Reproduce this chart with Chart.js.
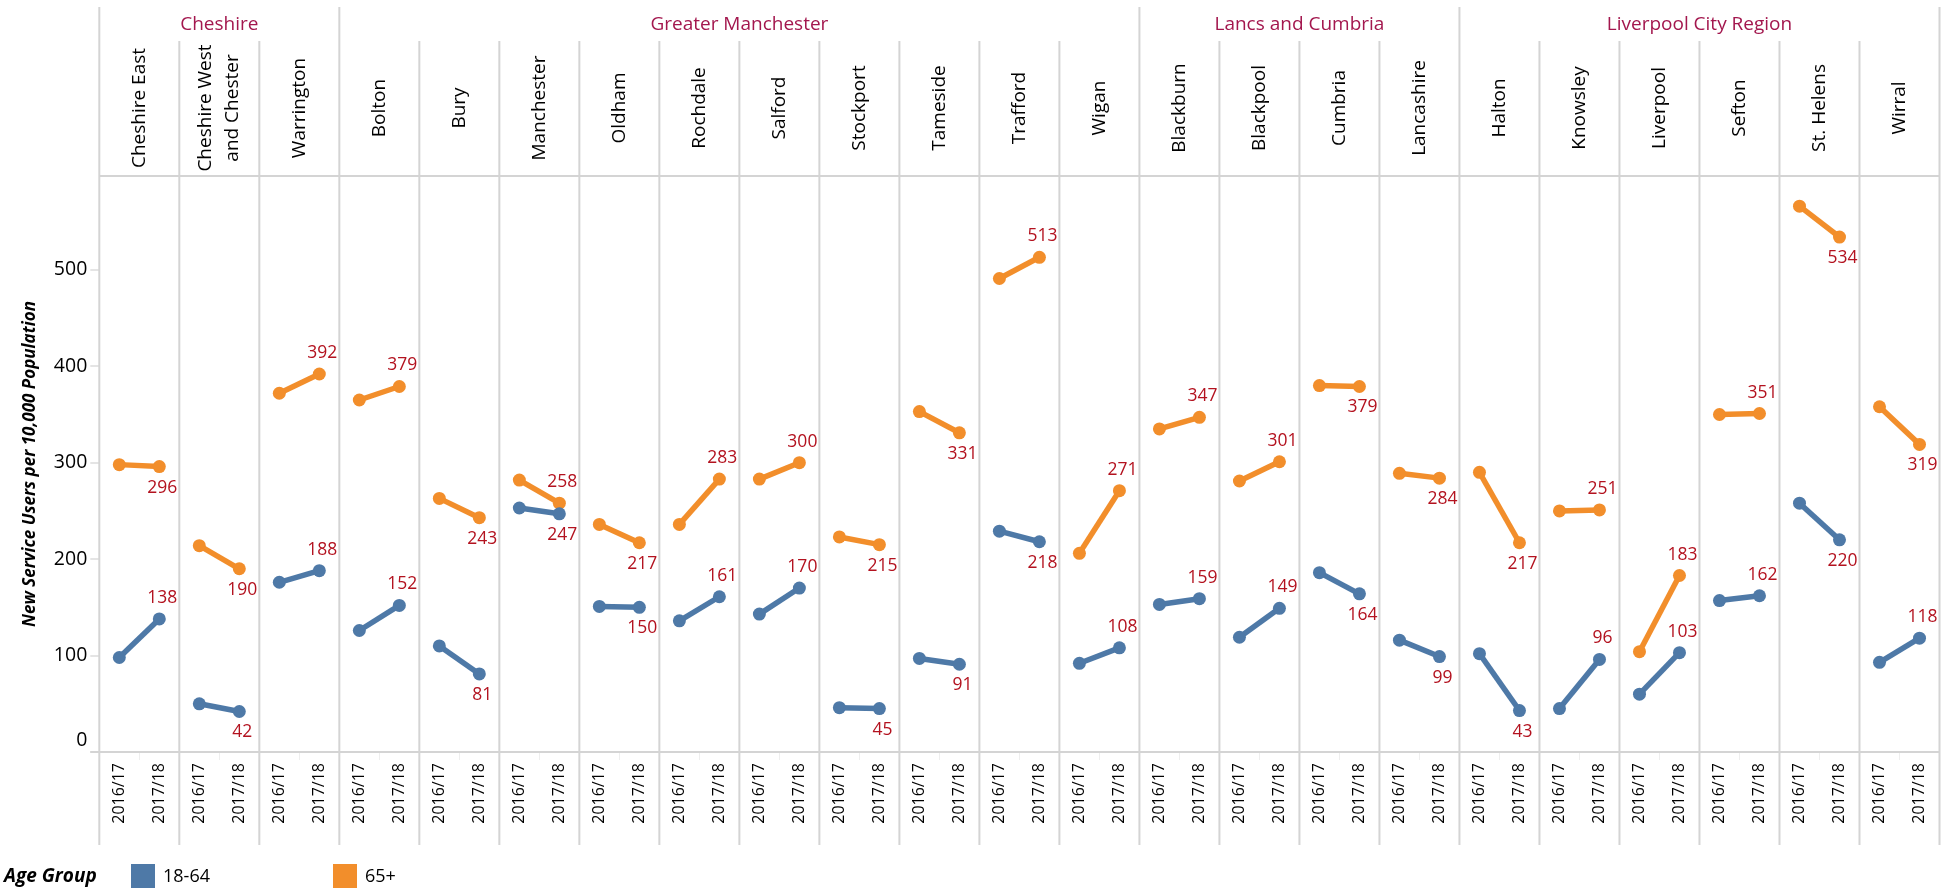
<!DOCTYPE html>
<html>
<head>
<meta charset="utf-8">
<script src="https://cdn.jsdelivr.net/npm/chart.js@4.4.1/dist/chart.umd.min.js"></script>
<style>
html,body{margin:0;padding:0;background:#fff;overflow:hidden}
#wrap{position:relative;width:1946px;height:888px}
</style>
</head>
<body>
<div id="wrap"><canvas id="c" width="1946" height="888"></canvas></div>
<script>
// ---------- data ----------
const regionNames = ['Cheshire', 'Greater Manchester', 'Lancs and Cumbria', 'Liverpool City Region'];
const regionSizes = [3, 10, 4, 6];
const districts = ['Cheshire East', 'Cheshire West and Chester', 'Warrington',
  'Bolton', 'Bury', 'Manchester', 'Oldham', 'Rochdale', 'Salford', 'Stockport', 'Tameside', 'Trafford', 'Wigan',
  'Blackburn', 'Blackpool', 'Cumbria', 'Lancashire',
  'Halton', 'Knowsley', 'Liverpool', 'Sefton', 'St. Helens', 'Wirral'];
const years = ['2016/17', '2017/18'];
const age1864_1617 = [98, 50, 176, 126, 110, 253, 151, 136, 143, 46, 97, 229, 92, 153, 119, 186, 116, 102, 45, 60, 157, 258, 93];
const age1864_1718 = [138, 42, 188, 152, 81, 247, 150, 161, 170, 45, 91, 218, 108, 159, 149, 164, 99, 43, 96, 103, 162, 220, 118];
const age65_1617 = [298, 214, 372, 365, 263, 282, 236, 236, 283, 223, 353, 491, 206, 335, 281, 380, 289, 290, 250, 104, 350, 566, 358];
const age65_1718 = [296, 190, 392, 379, 243, 258, 217, 283, 300, 215, 331, 513, 271, 347, 301, 379, 284, 217, 251, 183, 351, 534, 319];
const yTicks = [0, 100, 200, 300, 400, 500];
const seriesNames = ['18-64', '65+'];
const yTitle = 'New Service Users per 10,000 Population';
const legendTitle = 'Age Group';

// ---------- styles ----------
const FAMILY = '"Open Sans", "Noto Sans", sans-serif';
const BLUE = '#4e79a7';
const ORANGE = '#f28e2b';
const LABEL_RED = '#b3121f';
const REGION_COL = '#a3174e';
const TEXT = '#000000';
const SEP = '#d4d4d4';

// ---------- build ----------
const labels = [];
const s1864 = [];
const s65 = [];
districts.forEach((d, i) => {
  years.forEach(y => labels.push(y));
  s1864.push(age1864_1617[i], age1864_1718[i]);
  s65.push(age65_1617[i], age65_1718[i]);
});

function ds(name, data, color) {
  return {
    label: name, data,
    borderColor: color, backgroundColor: color,
    pointBackgroundColor: color, pointBorderColor: color,
    borderWidth: 5.5, pointRadius: 6.5, pointBorderWidth: 0, pointHoverRadius: 6.5,
    tension: 0, fill: false,
    segment: { borderColor: c => (c.p0DataIndex % 2 === 1) ? 'rgba(0,0,0,0)' : color }
  };
}

function panelEdges(chart) {
  const x = chart.scales.x;
  const half = (x.getPixelForValue(1) - x.getPixelForValue(0)) / 2;
  const edges = [];
  for (let p = 0; p < districts.length; p++) edges.push(x.getPixelForValue(2 * p) - half);
  edges.push(x.getPixelForValue(2 * districts.length - 1) + half);
  return edges;
}

const framePlugin = {
  id: 'frame',
  beforeDatasetsDraw(chart) {
    const ctx = chart.ctx;
    const area = chart.chartArea;
    const edges = panelEdges(chart);
    const groupStarts = [0];
    regionSizes.forEach(s => groupStarts.push(groupStarts[groupStarts.length - 1] + s));
    ctx.save();
    ctx.strokeStyle = SEP;
    ctx.lineWidth = 2;
    edges.forEach((ex, p) => {
      const top = groupStarts.includes(p) ? 7 : 41;
      ctx.beginPath();
      ctx.moveTo(ex, top);
      ctx.lineTo(ex, 845);
      ctx.stroke();
    });
    ctx.beginPath();
    ctx.moveTo(area.left, area.top); ctx.lineTo(area.right, area.top);
    ctx.moveTo(area.left - 9, area.bottom); ctx.lineTo(area.right, area.bottom);
    ctx.stroke();

    ctx.fillStyle = REGION_COL;
    ctx.font = '19px ' + FAMILY;
    ctx.textAlign = 'center';
    ctx.textBaseline = 'middle';
    regionNames.forEach((r, i) => {
      const x0 = edges[groupStarts[i]], x1 = edges[groupStarts[i + 1]];
      ctx.fillText(r, (x0 + x1) / 2, 25);
    });

    ctx.fillStyle = TEXT;
    ctx.font = '19px ' + FAMILY;
    districts.forEach((d, p) => {
      const cx = (edges[p] + edges[p + 1]) / 2;
      const lines = d === 'Cheshire West and Chester' ? ['Cheshire West', 'and Chester'] : [d];
      ctx.save();
      ctx.translate(cx, 108);
      ctx.rotate(-Math.PI / 2);
      const lh = 27;
      lines.forEach((l, k) => {
        const off = (k - (lines.length - 1) / 2) * lh;
        ctx.fillText(l, 0, off);
      });
      ctx.restore();
    });

    ctx.textAlign = 'left';
    ctx.fillStyle = TEXT;
    ctx.font = 'italic bold 19px ' + FAMILY;
    ctx.fillText(legendTitle, 4, 877);
    const legendX = [131, 333];
    const legendCol = [BLUE, ORANGE];
    ctx.font = '18px ' + FAMILY;
    seriesNames.forEach((n, i) => {
      ctx.fillStyle = legendCol[i];
      ctx.fillRect(legendX[i], 864, 24, 24);
      ctx.fillStyle = TEXT;
      ctx.fillText(n, legendX[i] + 32, 877);
    });
    ctx.restore();
  }
};

const valueLabelPlugin = {
  id: 'valueLabels',
  afterDatasetsDraw(chart) {
    const ctx = chart.ctx;
    const metas = [chart.getDatasetMeta(0), chart.getDatasetMeta(1)];
    const first = [age1864_1617, age65_1617];
    const last = [age1864_1718, age65_1718];
    ctx.save();
    ctx.font = '17.5px ' + FAMILY;
    ctx.fillStyle = LABEL_RED;
    ctx.textAlign = 'center';
    ctx.textBaseline = 'middle';
    districts.forEach((d, p) => {
      for (let s = 0; s < 2; s++) {
        const v0 = first[s][p], v1 = last[s][p];
        const other = last[1 - s][p];
        let up = v1 >= v0;
        if (Math.abs(v1 - other) < 30) up = v1 > other;
        const el = metas[s].data[2 * p + 1];
        ctx.fillText(String(Math.round(v1)), el.x + 3, el.y + (up ? -21 : 21));
      }
    });
    ctx.restore();
  }
};

new Chart(document.getElementById('c'), {
  type: 'line',
  data: {
    labels,
    datasets: [ds(seriesNames[0], s1864, BLUE), ds(seriesNames[1], s65, ORANGE)]
  },
  options: {
    responsive: false,
    animation: false,
    devicePixelRatio: 1,
    layout: { padding: { top: 176, left: 0, right: 1, bottom: 0 } },
    plugins: { legend: { display: false }, tooltip: { enabled: false } },
    scales: {
      x: {
        type: 'category',
        offset: true,
        grid: {
          offset: true, drawOnChartArea: false, tickLength: 8,
          color: 'rgba(0,0,0,0)',
          tickColor: c => (c.index % 2 === 1) ? '#eeeeee' : 'rgba(0,0,0,0)'
        },
        border: { display: false },
        ticks: {
          autoSkip: false, minRotation: 90, maxRotation: 90, padding: 3,
          font: { family: FAMILY, size: 16 }, color: TEXT
        },
        afterFit(s) { s.height = 136; }
      },
      y: {
        min: 0, max: 597.3,
        afterBuildTicks(s) { s.ticks = yTicks.map(v => ({ value: v })); },
        ticks: {
          padding: 3, font: { family: FAMILY, size: 19.5 }, color: TEXT,
          callback: v => (v === 0 ? ['0', ''] : String(v))
        },
        grid: { drawOnChartArea: false, tickLength: 9, tickColor: '#e4e4e4', lineWidth: 2 },
        border: { display: false },
        title: {
          display: true, text: yTitle, color: TEXT,
          font: { family: FAMILY, size: 17, weight: 'bold', style: 'italic' },
          padding: { top: 20, bottom: 0 }
        },
        afterFit(s) { s.width = 99.3; }
      }
    }
  },
  plugins: [framePlugin, valueLabelPlugin]
});
</script>
</body>
</html>
